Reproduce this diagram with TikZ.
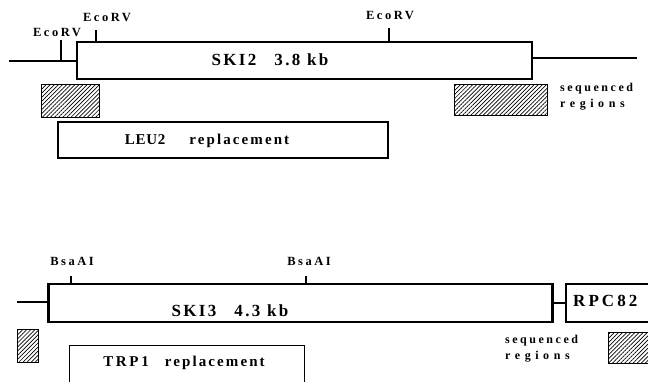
\documentclass[tikz,border=0pt]{standalone}
\usepackage{fontspec}
\setmainfont{Liberation Serif}
\newfontfamily\spGene[LetterSpace=14]{Liberation Serif}
\newfontfamily\spSite[LetterSpace=20]{Liberation Serif}
\newfontfamily\spSeq[LetterSpace=21]{Liberation Serif}
\newfontfamily\spReg[LetterSpace=38]{Liberation Serif}
\newfontfamily\spRepl[LetterSpace=14]{Liberation Serif}
\newfontfamily\spName[LetterSpace=5]{Liberation Serif}
\newfontfamily\spRpc[LetterSpace=18]{Liberation Serif}
\usetikzlibrary{patterns,patterns.meta}
\tikzset{
  genebox/.style={draw, line width=2.2pt, fill=white, inner sep=0pt},
  genetext/.style={inner sep=0pt, font=\spGene\bfseries\fontsize{17}{17}\selectfont},
  replbox/.style={draw, line width=1.3pt, inner sep=0pt},
  repltext/.style={inner sep=0pt, font=\bfseries\fontsize{15}{15}\selectfont},
  hatchbox/.style={draw, line width=1pt, pattern={Lines[angle=45, distance=2.9pt, line width=0.7pt]}, inner sep=0pt},
  dna/.style={line width=2.2pt},
  site/.style={line width=2pt},
  sitelabel/.style={inner sep=0pt, font=\spSite\bfseries\fontsize{12.5}{12.5}\selectfont},
  seqlabel/.style={inner sep=0pt, align=left, font=\bfseries\fontsize{12}{16}\selectfont}
}
\begin{document}
\begin{tikzpicture}[x=1pt, y=-1pt]
\useasboundingbox (0,0) rectangle (648,381);
\clip (0,0) rectangle (648,381);
% ---------- top: SKI2 ----------
\node[genebox, minimum width=455pt, minimum height=37pt] (ski2) at (304.5,60.5) {};
\node[genetext] (ski2t) at (270,60) {SKI2\hspace{18pt}3.8 kb};
\coordinate (l2) at (9,61);
\coordinate (r2) at (637,58);
\draw[dna] (l2) -- (ski2.west |- l2);
\draw[dna] (ski2.east |- r2) -- (r2);
% EcoRV sites
\coordinate (e1b) at (61,61);
\coordinate (e1t) at (61,40);
\coordinate (e2b) at (96,42);
\coordinate (e2t) at (96,30);
\coordinate (e3b) at (389,42);
\coordinate (e3t) at (389,28);
\draw[site] (e1b) -- (e1t);
\draw[site] (e2b) -- (e2t);
\draw[site] (e3b) -- (e3t);
\node[sitelabel] (e1l) at (57,32) {EcoRV};
\node[sitelabel] (e2l) at (107,17) {EcoRV};
\node[sitelabel] (e3l) at (390,15) {EcoRV};
% sequenced regions
\node[hatchbox, minimum width=58pt, minimum height=33pt] (h1) at (70,100.5) {};
\node[hatchbox, minimum width=93pt, minimum height=31pt] (h2) at (500.5,99.5) {};
\node[seqlabel, anchor=west] (s1) at (560,97) {{\spSeq sequenced}\\{\spReg regions}};
% LEU2 replacement
\node[replbox, minimum width=330pt, minimum height=36pt] (leu2) at (223,140) {};
\node[repltext] (leu2t) at (207,141) {{\spName LEU2}\hspace{24pt}{\spRepl replacement}};
% ---------- bottom: SKI3 ----------
\node[genebox, minimum width=504pt, minimum height=38pt] (ski3) at (300.5,303) {};
\node[genetext] (ski3t) at (230,310.5) {SKI3\hspace{18pt}4.3 kb};
\node[genebox, anchor=west, minimum width=120pt, minimum height=38pt] (rpc) at (565,303) {};
\node[inner sep=0pt, anchor=west, font=\spRpc\bfseries\fontsize{17}{17}\selectfont] (rpct) at (573,301) {RPC82};
\coordinate (l3) at (17,302);
\draw[dna] (l3) -- (ski3.west |- l3);
\draw[dna] (ski3.east) -- (rpc.west);
% BsaAI sites
\coordinate (b1b) at (71,284);
\coordinate (b1t) at (71,276);
\coordinate (b2b) at (306,284);
\coordinate (b2t) at (306,276);
\draw[site] (b1b) -- (b1t);
\draw[site] (b2b) -- (b2t);
\node[sitelabel] (b1l) at (72,261) {BsaAI};
\node[sitelabel] (b2l) at (309,261) {BsaAI};
% sequenced regions
\node[hatchbox, minimum width=21pt, minimum height=33pt] (h3) at (27.5,345.5) {};
\node[hatchbox, anchor=north west, minimum width=60pt, minimum height=31pt] (h4) at (608,332) {};
\node[seqlabel, anchor=west] (s2) at (505,349) {{\spSeq sequenced}\\{\spReg regions}};
% TRP1 replacement
\node[replbox, anchor=north west, minimum width=235pt, minimum height=46pt] (trp1) at (69,345) {};
\node[repltext] (trp1t) at (184,363) {{\spRpc TRP1}\hspace{16pt}{\spRepl replacement}};
\end{tikzpicture}
\end{document}
